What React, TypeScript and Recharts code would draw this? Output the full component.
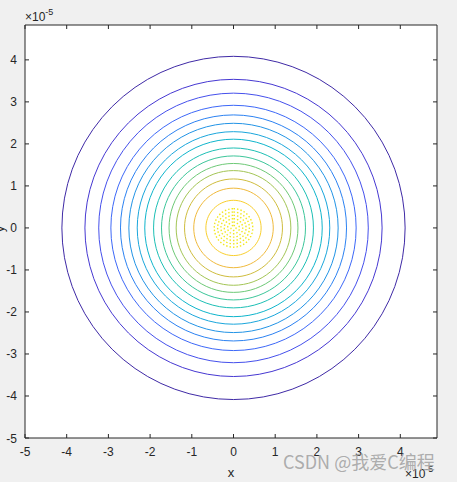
import { ScatterChart, XAxis, YAxis, RadarChart, Radar, PolarAngleAxis, PolarRadiusAxis } from 'recharts'

// canvas + plot box (pixels)
const W = 457
const H = 482
const PLOT = { left: 25, top: 25, right: 437, bottom: 438 }

// axes (units of 1e-5)
const xDomain = [-5, 4.88]
const yDomain = [-5, 4.83]
const xTicks = [-5, -4, -3, -2, -1, 0, 1, 2, 3, 4]
const yTicks = [-5, -4, -3, -2, -1, 0, 1, 2, 3, 4]

// contour rings, outer -> inner (radius in 1e-5)
const contourRadii = [4.1, 3.55, 3.22, 2.93, 2.7, 2.5, 2.3, 2.12, 1.91, 1.72, 1.54, 1.37, 1.17, 0.95, 0.66]
const contourColors = [
  '#3f2aa6', '#4638d2', '#4550ec', '#3d68f8', '#2c82f2', '#2294e6', '#1aa6dc', '#0fb5cc',
  '#1dbfb5', '#3dc69a', '#6ec977', '#a3c555', '#cfbd3e', '#f0ba3c', '#f9cf2e',
]
// dotted yellow core
const coreRadii = [0.46, 0.38, 0.3, 0.22, 0.14, 0.06]
const coreColor = '#f2e81e'

const angles = Array.from({ length: 72 }, (_, i) => i * 5)

const ringData = angles.map((angle) => {
  const row: Record<string, number> = { angle }
  contourRadii.forEach((r, i) => (row['c' + i] = r))
  coreRadii.forEach((r, i) => (row['k' + i] = r))
  return row
})

const INK = '#262626'
const FONT = '"Liberation Sans", Arial, sans-serif'
const TICK = 4

// polar frame lined up with the cartesian one
const pxPerX = (PLOT.right - PLOT.left) / (xDomain[1] - xDomain[0])
const pxPerY = (PLOT.bottom - PLOT.top) / (yDomain[1] - yDomain[0])
const cx = PLOT.left + (0 - xDomain[0]) * pxPerX
const cy = PLOT.bottom - (0 - yDomain[0]) * pxPerY
const rMax = 5
const outerRadius = rMax * (pxPerX + pxPerY) / 2

function BottomTick({ x, y, payload }: any) {
  return (
    <g>
      <line x1={x} y1={y} x2={x} y2={y - TICK} stroke={INK} />
      <text x={x} y={y + 18} textAnchor="middle" fill={INK} fontSize={12} fontFamily={FONT}>
        {payload.value}
      </text>
    </g>
  )
}

function TopTick({ x, y }: any) {
  return <line x1={x} y1={y} x2={x} y2={y + TICK} stroke={INK} />
}

function LeftTick({ x, y, payload }: any) {
  return (
    <g>
      <line x1={x} y1={y} x2={x + TICK} y2={y} stroke={INK} />
      <text x={x - 8} y={y + 4.5} textAnchor="end" fill={INK} fontSize={12} fontFamily={FONT}>
        {payload.value}
      </text>
    </g>
  )
}

function RightTick({ x, y }: any) {
  return <line x1={x} y1={y} x2={x - TICK} y2={y} stroke={INK} />
}

export default function App() {
  return (
    <div style={{ position: 'relative', width: W, height: H, background: '#f0f0f0', overflow: 'hidden' }}>
      <style>{'body{margin:0}'}</style>
      <div
        style={{
          position: 'absolute',
          left: PLOT.left,
          top: PLOT.top,
          width: PLOT.right - PLOT.left,
          height: PLOT.bottom - PLOT.top,
          background: '#ffffff',
        }}
      />
      <div style={{ position: 'absolute', left: 0, top: 0 }}>
        <ScatterChart width={W} height={H} margin={{ top: 0, right: 0, bottom: 0, left: 0 }}>
          <XAxis
            xAxisId="b"
            type="number"
            dataKey="x"
            domain={xDomain}
            ticks={xTicks}
            allowDataOverflow
            height={H - PLOT.bottom}
            tickSize={0}
            tickMargin={0}
            tickLine={false}
            tick={<BottomTick />}
            axisLine={{ stroke: INK }}
            interval={0}
          />
          <XAxis
            xAxisId="t"
            orientation="top"
            type="number"
            dataKey="x"
            domain={xDomain}
            ticks={xTicks}
            allowDataOverflow
            height={PLOT.top}
            tickSize={0}
            tickMargin={0}
            tickLine={false}
            tick={<TopTick />}
            axisLine={{ stroke: INK }}
            interval={0}
          />
          <YAxis
            yAxisId="l"
            type="number"
            dataKey="y"
            domain={yDomain}
            ticks={yTicks}
            allowDataOverflow
            width={PLOT.left}
            tickSize={0}
            tickMargin={0}
            tickLine={false}
            tick={<LeftTick />}
            axisLine={{ stroke: INK }}
            interval={0}
          />
          <YAxis
            yAxisId="r"
            orientation="right"
            type="number"
            dataKey="y"
            domain={yDomain}
            ticks={yTicks}
            allowDataOverflow
            width={W - PLOT.right}
            tickSize={0}
            tickMargin={0}
            tickLine={false}
            tick={<RightTick />}
            axisLine={{ stroke: INK }}
            interval={0}
          />
        </ScatterChart>
      </div>
      <div style={{ position: 'absolute', left: 0, top: 0 }}>
        <RadarChart
          width={W}
          height={H}
          data={ringData}
          cx={cx}
          cy={cy}
          outerRadius={outerRadius}
          margin={{ top: 0, right: 0, bottom: 0, left: 0 }}
        >
          <PolarAngleAxis dataKey="angle" tick={false} axisLine={false} tickLine={false} />
          <PolarRadiusAxis domain={[0, rMax]} tick={false} axisLine={false} tickLine={false} />
          {contourRadii.map((_, i) => (
            <Radar
              key={'c' + i}
              dataKey={'c' + i}
              stroke={contourColors[i]}
              strokeWidth={1}
              fill="none"
              fillOpacity={0}
              dot={false}
              isAnimationActive={false}
            />
          ))}
          {coreRadii.map((_, i) => (
            <Radar
              key={'k' + i}
              dataKey={'k' + i}
              stroke={coreColor}
              strokeWidth={1.4}
              strokeDasharray="1.5 2"
              fill="none"
              fillOpacity={0}
              dot={false}
              isAnimationActive={false}
            />
          ))}
        </RadarChart>
      </div>
      <svg width={W} height={H} style={{ position: 'absolute', left: 0, top: 0, pointerEvents: 'none' }}>
        <text x={25} y={21} fill={INK} fontSize={12} fontFamily={FONT}>
          ×10
          <tspan fontSize={9} dy={-6}>-5</tspan>
        </text>
        <text x={405} y={478} fill={INK} fontSize={12} fontFamily={FONT}>
          ×10
          <tspan fontSize={9} dy={-6}>-5</tspan>
        </text>
        <text x={231} y={477} textAnchor="middle" fill={INK} fontSize={13} fontFamily={FONT}>
          x
        </text>
        <text x={4} y={229} textAnchor="middle" fill={INK} fontSize={13} fontFamily={FONT} transform="rotate(-90 4 229)">
          y
        </text>
        <text
          x={283}
          y={469}
          fill="#a4a4a4"
          fillOpacity={0.9}
          fontSize={18}
          fontFamily='"Noto Sans CJK SC", "Noto Sans", sans-serif'
        >
          CSDN @我爱C编程
        </text>
      </svg>
    </div>
  )
}
